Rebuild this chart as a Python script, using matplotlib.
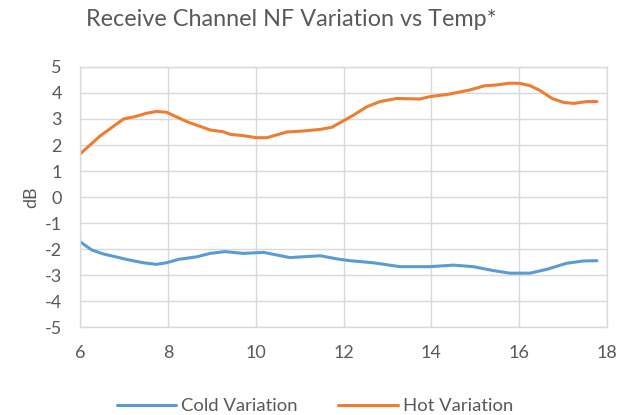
import numpy as np
import matplotlib
matplotlib.use("Agg")
import matplotlib.pyplot as plt

# values
temp_cold = [6.0, 6.27, 6.53, 7.06, 7.44, 7.74, 7.97, 8.24, 8.66, 8.96, 9.3, 9.72,
             10.18, 10.48, 10.78, 11.47, 11.85, 12.15, 12.68, 13.29, 13.97, 14.5,
             14.96, 15.41, 15.79, 16.25, 16.63, 17.08, 17.46, 17.77]
cold_var = [-1.72, -2.04, -2.19, -2.4, -2.53, -2.59, -2.53, -2.4, -2.3, -2.17, -2.1, -2.17,
            -2.13, -2.23, -2.33, -2.26, -2.38, -2.45, -2.53, -2.68, -2.68, -2.62,
            -2.68, -2.83, -2.93, -2.93, -2.78, -2.55, -2.46, -2.45]

temp_hot = [6.0, 6.46, 6.99, 7.25, 7.51, 7.74, 7.97, 8.43, 8.96, 9.26, 9.42, 9.72,
            10.02, 10.25, 10.71, 11.09, 11.47, 11.73, 12.0, 12.23, 12.53, 12.83,
            13.21, 13.74, 13.97, 14.42, 14.88, 15.22, 15.49, 15.79, 16.02, 16.25,
            16.48, 16.75, 17.01, 17.24, 17.54, 17.77]
hot_var = [1.65, 2.35, 3.0, 3.09, 3.22, 3.29, 3.26, 2.9, 2.58, 2.51, 2.41, 2.36,
           2.28, 2.28, 2.5, 2.54, 2.6, 2.68, 2.93, 3.15, 3.47, 3.67,
           3.79, 3.77, 3.86, 3.96, 4.12, 4.28, 4.31, 4.38, 4.37, 4.28,
           4.09, 3.79, 3.64, 3.6, 3.67, 3.67]

x_ticks = [6, 8, 10, 12, 14, 16, 18]
y_ticks = [5, 4, 3, 2, 1, 0, -1, -2, -3, -4, -5]

text_col = "#595959"
grid_col = "#D9D9D9"
plt.rcParams["font.family"] = ["Lato", "DejaVu Sans"]
plt.rcParams["axes.unicode_minus"] = False

fig = plt.figure(figsize=(6.33, 4.15), dpi=100)
ax = fig.add_axes([80 / 633, 1 - 327 / 415, 527 / 633, 260 / 415])

ax.plot(temp_cold, cold_var, color="#5B9BD5", lw=2.2, label="Cold Variation",
        solid_capstyle="round")
ax.plot(temp_hot, hot_var, color="#ED7D31", lw=2.2, label="Hot Variation",
        solid_capstyle="round")

ax.set_xlim(6, 18)
ax.set_ylim(-5, 5)
ax.set_xticks(x_ticks)
ax.set_yticks(y_ticks)
ax.grid(True, color=grid_col, lw=1)
ax.set_axisbelow(True)
for s in ax.spines.values():
    s.set_color(grid_col)
    s.set_linewidth(1)
ax.tick_params(length=0, labelsize=13, labelcolor=text_col)
ax.tick_params(axis="y", pad=13)
ax.tick_params(axis="x", pad=13)

ax.set_ylabel("dB", fontsize=13, color=text_col, labelpad=4)
fig.text(291 / 633, 1 - 19 / 415, "Receive Channel NF Variation vs Temp*",
         ha="center", va="center", fontsize=16.8, color=text_col)

leg = fig.legend(loc="center", bbox_to_anchor=(315 / 633, 1 - 406 / 415), ncol=2,
                 frameon=False, fontsize=13.3, handlelength=3.2, handletextpad=0.3,
                 columnspacing=2.2)
for t in leg.get_texts():
    t.set_color(text_col)

fig.savefig("out.png", dpi=100)
